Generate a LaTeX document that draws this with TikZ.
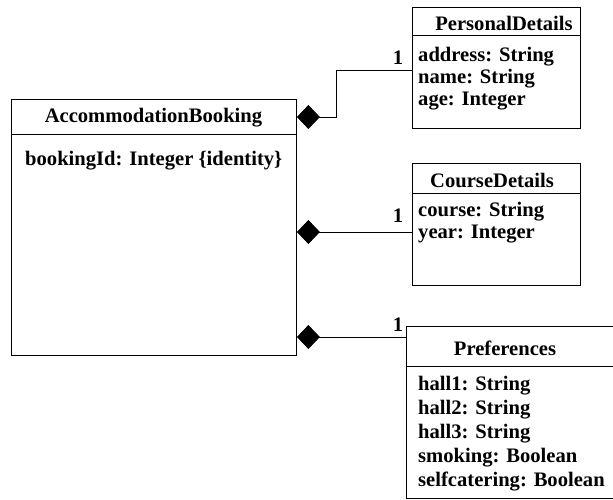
\documentclass[tikz,border=0pt]{standalone}
\usepackage{fontspec}
\setmainfont{Liberation Serif}
\usetikzlibrary{arrows.meta}
\begin{document}
\begin{tikzpicture}[x=1pt,y=-1pt,
  classbox/.style={draw, line width=0.9pt, inner sep=0pt, anchor=north west},
  divider/.style={line width=0.9pt},
  umltext/.style={font=\bfseries\fontsize{20.6}{23}\selectfont, inner sep=0pt},
  attr/.style={umltext, anchor=base west},
  title/.style={umltext, anchor=base},
  mult/.style={umltext, anchor=base},
  comp/.style={line width=0.9pt, {Diamond[length=23pt,width=24pt]}-}]
\useasboundingbox (0,0) rectangle (613,500);
\clip (0,0) rectangle (613,500);

% AccommodationBooking class
\node[classbox, minimum width=285pt, minimum height=256pt] (ab) at (11,99) {};
\draw[divider] (11,134) -- (296,134);
\node[title] (abt) at (153.5,123) {AccommodationBooking};
\node[attr] (aba1) at (25,165) {bookingId: Integer \{identity\}};

% PersonalDetails class
\node[classbox, minimum width=168pt, minimum height=121pt] (pd) at (412,7) {};
\draw[divider] (412,35) -- (580,35);
\node[title] (pdt) at (504,31) {PersonalDetails};
\node[attr] (pda1) at (418,61.5) {address: String};
\node[attr] (pda2) at (418,83.5) {name: String};
\node[attr] (pda3) at (418,105.5) {age: Integer};

% CourseDetails class
\node[classbox, minimum width=168pt, minimum height=122pt] (cd) at (412,163) {};
\draw[divider] (412,193) -- (580,193);
\node[title] (cdt) at (492,187) {CourseDetails};
\node[attr] (cda1) at (418,216) {course: String};
\node[attr] (cda2) at (418,238.5) {year: Integer};

% Preferences class (runs past the right edge)
\node[classbox, minimum width=212pt, minimum height=172pt] (pr) at (406,326) {};
\draw[divider] (406,366) -- (618,366);
\node[title] (prt) at (505,355.5) {Preferences};
\node[attr] (pra1) at (418,390.5) {hall1: String};
\node[attr] (pra2) at (418,414) {hall2: String};
\node[attr] (pra3) at (418,438) {hall3: String};
\node[attr] (pra4) at (418,462.5) {smoking: Boolean};
\node[attr] (pra5) at (418,486.5) {selfcatering: Boolean};

% Composition connectors
\coordinate (k1) at (336.5,117);
\draw[comp] (ab.east |- k1) -- (k1) |- (pd.west |- 0,70.5);
\coordinate (k2) at (412,232);
\draw[comp] (ab.east |- k2) -- (cd.west |- k2);
\coordinate (k3) at (406,337);
\draw[comp] (ab.east |- k3) -- (pr.west |- k3);

% Multiplicities
\node[mult] (m1) at (398,65) {1};
\node[mult] (m2) at (398,222.5) {1};
\node[mult] (m3) at (398,331.5) {1};
\end{tikzpicture}
\end{document}
